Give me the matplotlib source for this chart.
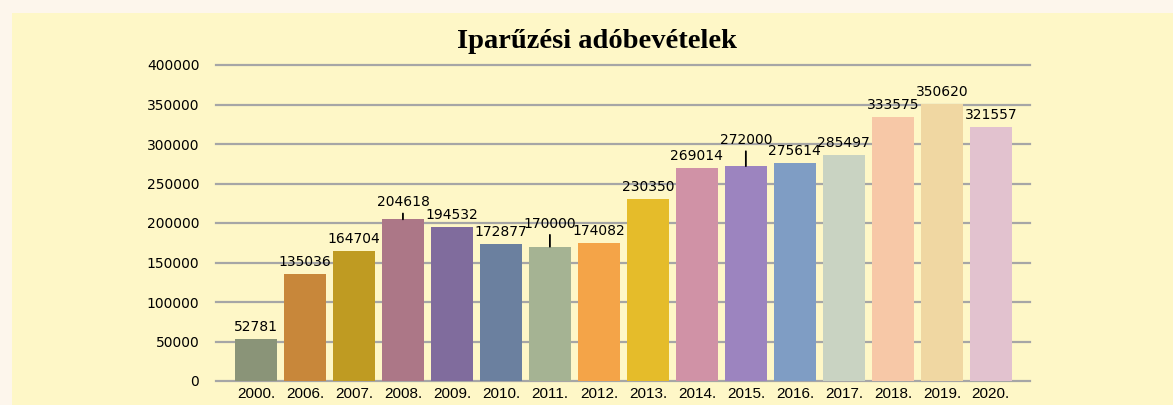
import numpy as np
import matplotlib.pyplot as plt
from matplotlib.patches import Rectangle

# Adatok
evek = ["2000.", "2006.", "2007.", "2008.", "2009.", "2010.", "2011.", "2012.",
        "2013.", "2014.", "2015.", "2016.", "2017.", "2018.", "2019.", "2020."]
bevetel = [52781, 135036, 164704, 204618, 194532, 172877, 170000, 174082,
           230350, 269014, 272000, 275614, 285497, 333575, 350620, 321557]
szinek = ["#8a9478", "#c8873a", "#bf9b22", "#ac7787", "#806c9d", "#6b809f",
          "#a5b393", "#f4a448", "#e5bc2a", "#d092a6", "#9c84bf", "#7f9dc4",
          "#c9d3c2", "#f7c8a7", "#f0d7a2", "#e2c2cf"]
y_ticks = [0, 50000, 100000, 150000, 200000, 250000, 300000, 350000, 400000]

# címkék, amelyek vezetővonallal vannak eltolva (index: pixel eltolás)
eltolt = {3: 17, 6: 23, 10: 26}

fig = plt.figure(figsize=(11.73, 4.05), dpi=100)
fig.patch.set_facecolor("#fdf6ec")
fig.patches.append(Rectangle((12 / 1173, 0), 1, 1 - 13 / 405, transform=fig.transFigure,
                             facecolor="#fef7c7", edgecolor="none", zorder=-5))

ax = fig.add_axes([216 / 1173, 1 - 381 / 405, (1030 - 216) / 1173, (381 - 65) / 405])
ax.set_facecolor("none")
ax.set_zorder(2)

x = np.arange(len(evek))
ax.bar(x, bevetel, width=0.857, color=szinek, zorder=3)

for i, v in enumerate(bevetel):
    if i in eltolt:
        ax.annotate(str(v), (x[i], v), xytext=(0, eltolt[i]), textcoords="offset pixels",
                    ha="center", va="center", fontsize=10, family="DejaVu Sans",
                    arrowprops=dict(arrowstyle="-", color="black", lw=1.3,
                                    shrinkA=1, shrinkB=0), zorder=5)
    else:
        ax.annotate(str(v), (x[i], v), xytext=(0, 12), textcoords="offset pixels",
                    ha="center", va="center", fontsize=10, family="DejaVu Sans", zorder=5)

ax.set_xlim(-0.816, 15.8)
ax.set_ylim(0, 400000)
ax.set_yticks(y_ticks)
ax.set_yticklabels([str(t) for t in y_ticks], fontsize=10, family="DejaVu Sans")
ax.set_xticks(x)
ax.set_xticklabels(evek, fontsize=11, family="Liberation Sans")
ax.tick_params(axis="y", length=0, pad=12)
ax.tick_params(axis="x", length=0, pad=4)
ax.grid(axis="y", color="#a6a6a6", lw=1.6, zorder=1)
ax.set_axisbelow(True)
for gl in ax.get_ygridlines():
    gl.set_clip_on(False)
for s in ax.spines.values():
    s.set_visible(False)

fig.text(597 / 1173, 1 - 42 / 405, "Iparűzési adóbevételek", ha="center", va="center",
         fontsize=20.5, fontweight="bold", family="Liberation Serif", zorder=5)

fig.savefig("out.png", dpi=100, facecolor=fig.get_facecolor())
